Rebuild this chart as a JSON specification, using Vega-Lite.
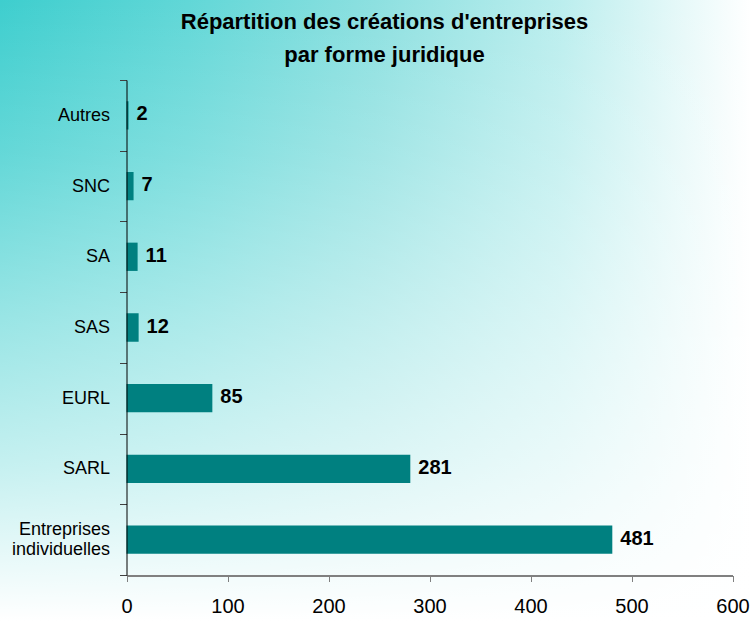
{
  "$schema": "https://vega.github.io/schema/vega-lite/v6.json",
  "width": 751,
  "height": 621,
  "padding": 0,
  "autosize": {"type": "none"},
  "background": "#ffffff",
  "config": {"view": {"stroke": null}, "font": "Liberation Sans"},
  "title": {
    "text": ["Répartition des créations d'entreprises", "par forme juridique"],
    "font": "Liberation Sans",
    "fontSize": 22,
    "fontWeight": "bold",
    "color": "#000000",
    "anchor": "middle",
    "frame": "group",
    "orient": "top",
    "baseline": "top",
    "lineHeight": 33,
    "offset": -76,
    "dx": 9,
    "zindex": 2
  },
  "data": {
    "values": [
      {"forme": "Autres", "n": 2},
      {"forme": "SNC", "n": 7},
      {"forme": "SA", "n": 11},
      {"forme": "SAS", "n": 12},
      {"forme": "EURL", "n": 85},
      {"forme": "SARL", "n": 281},
      {"forme": "Entreprises individuelles", "n": 481}
    ]
  },
  "layer": [
    {
      "data": {"values": [{}]},
      "mark": {
        "type": "rect",
        "fill": {
          "gradient": "linear", "x1": 0, "y1": 0, "x2": 1, "y2": 0,
          "stops": [
            {"offset": 0, "color": "#3ECECE"},
            {"offset": 0.25, "color": "#61D7D7"},
            {"offset": 0.5, "color": "#8DE0E0"},
            {"offset": 0.75, "color": "#BCEEEE"},
            {"offset": 1, "color": "#FFFFFF"}
          ]
        }
      },
      "encoding": {}
    },
    {
      "data": {"values": [{}]},
      "mark": {
        "type": "rect",
        "fill": {
          "gradient": "linear", "x1": 0, "y1": 0, "x2": 0, "y2": 1,
          "stops": [
            {"offset": 0, "color": "rgba(255,255,255,0)"},
            {"offset": 0.25, "color": "rgba(255,255,255,0.2)"},
            {"offset": 0.5, "color": "rgba(255,255,255,0.46)"},
            {"offset": 0.75, "color": "rgba(255,255,255,0.7)"},
            {"offset": 1, "color": "rgba(255,255,255,1)"}
          ]
        }
      },
      "encoding": {}
    },
    {
      "mark": {"type": "bar", "color": "#008080", "height": {"band": 0.4}},
      "encoding": {
        "y": {
          "field": "forme",
          "type": "nominal",
          "sort": null,
          "scale": {"range": [80, 575], "paddingInner": 0, "paddingOuter": 0},
          "axis": {
            "title": null,
            "orient": "left",
            "offset": -126.5,
            "zindex": 1,
            "tickBand": "extent",
            "tickSize": 7,
            "tickColor": "#404040",
            "domainColor": "#000000",
            "domainWidth": 1,
            "labelFont": "Liberation Sans",
            "labelFontSize": 18,
            "labelColor": "#000000",
            "labelPadding": 10,
            "labelLineHeight": 20,
            "labelOffset": {"condition": {"test": "datum.label == 'Entreprises individuelles'", "value": -10}, "value": 0},
            "labelExpr": "datum.label == 'Entreprises individuelles' ? ['Entreprises', 'individuelles'] : datum.label"
          }
        },
        "x": {
          "field": "n",
          "type": "quantitative",
          "scale": {"domain": [0, 600], "range": [126.5, 732.5], "nice": false},
          "axis": {
            "title": null,
            "orient": "bottom",
            "offset": -45.5,
            "zindex": 1,
            "values": [0, 100, 200, 300, 400, 500, 600],
            "grid": false,
            "labelFlush": false,
            "labelOverlap": false,
            "labelBound": false,
            "tickSize": 6,
            "tickColor": "#808080",
            "domainColor": "#808080",
            "domainWidth": 2,
            "labelFont": "Liberation Sans",
            "labelFontSize": 20,
            "labelColor": "#000000",
            "labelPadding": 15
          }
        }
      }
    },
    {
      "mark": {"type": "text", "align": "left", "baseline": "middle", "dx": 8, "dy": -1, "font": "Liberation Sans", "fontSize": 20, "fontWeight": "bold", "color": "#000000"},
      "encoding": {
        "y": {"field": "forme", "type": "nominal", "sort": null},
        "x": {"field": "n", "type": "quantitative"},
        "text": {"field": "n", "type": "quantitative"}
      }
    }
  ]
}
